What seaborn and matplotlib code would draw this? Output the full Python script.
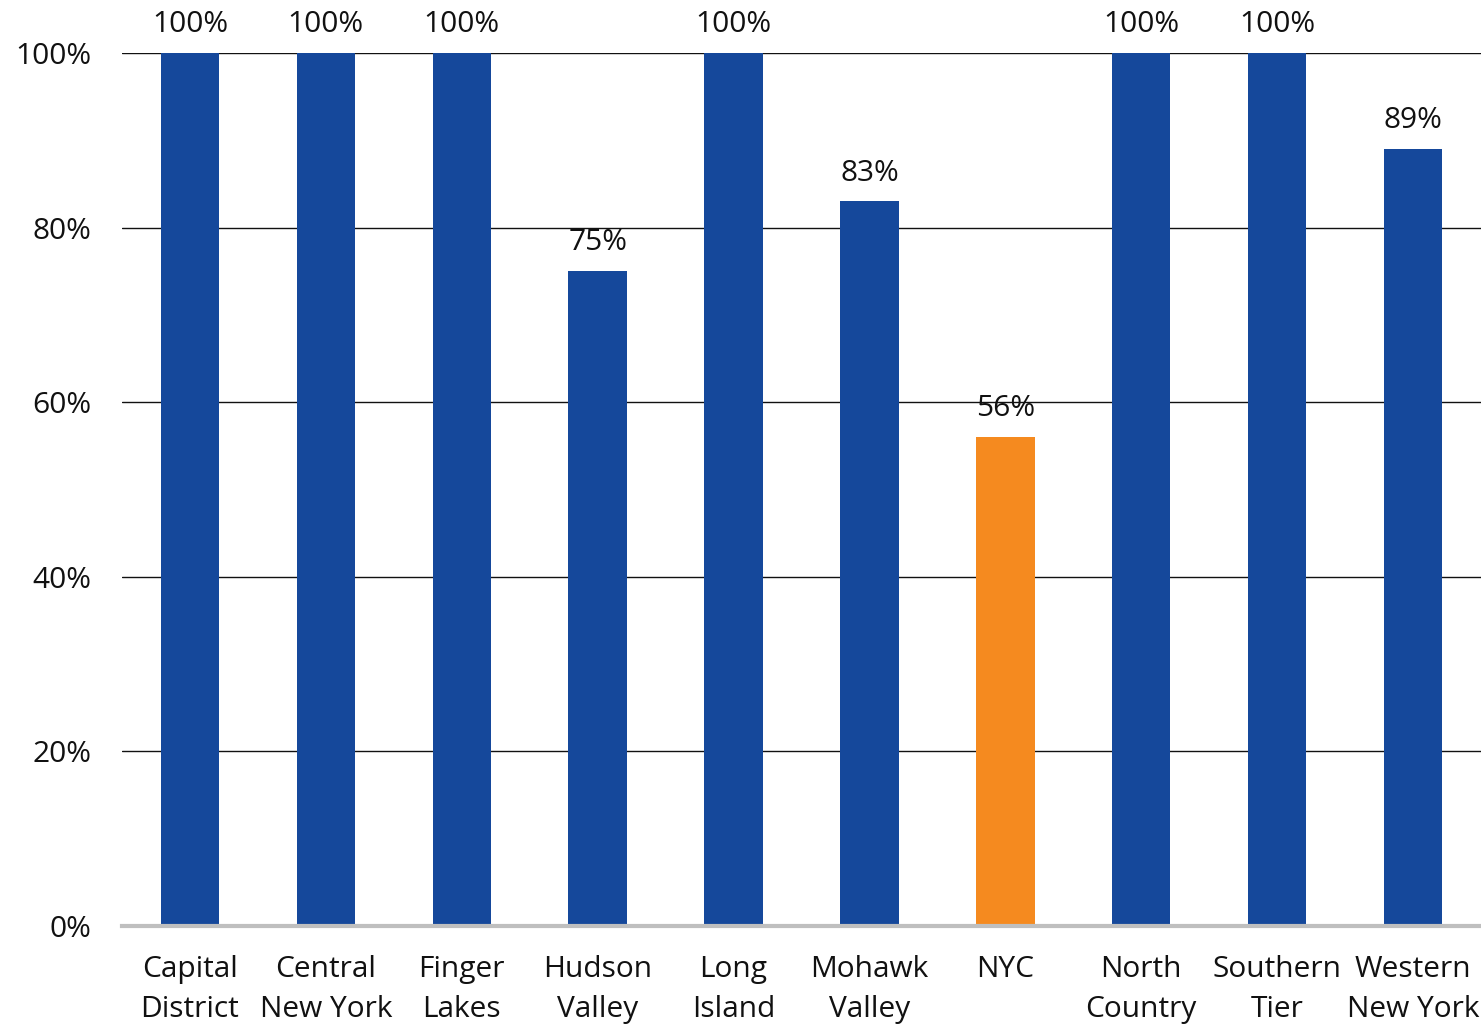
import numpy as np
import pandas as pd
import seaborn as sns
import matplotlib.pyplot as plt
from matplotlib.ticker import PercentFormatter

regions = ["Capital\nDistrict", "Central\nNew York", "Finger\nLakes", "Hudson\nValley",
           "Long\nIsland", "Mohawk\nValley", "NYC", "North\nCountry", "Southern\nTier",
           "Western\nNew York"]
shares = [1.00, 1.00, 1.00, 0.75, 1.00, 0.83, 0.56, 1.00, 1.00, 0.89]
labels = ["100%", "100%", "100%", "75%", "100%", "83%", "56%", "100%", "100%", "89%"]

blue = "#15489B"
orange = "#F58A1F"

df = pd.DataFrame({"region": regions, "share": shares})
df["group"] = ["nyc" if r == "NYC" else "other" for r in regions]

sns.set_style("white")
plt.rcParams["font.family"] = ["Open Sans", "DejaVu Sans"]
plt.rcParams["font.weight"] = "medium"

fig = plt.figure(figsize=(14.81, 10.26), dpi=100)
ax = fig.add_axes([122 / 1481, 1 - 926 / 1026, 1 - 122 / 1481, (926 - 53) / 1026])

sns.barplot(data=df, x="region", y="share", hue="group",
            palette={"other": blue, "nyc": orange}, width=0.43,
            dodge=False, legend=False, saturation=1, linewidth=0, ax=ax)

# value labels above bars
for patch in ax.patches:
    if patch.get_height() <= 0:
        continue
    xc = patch.get_x() + patch.get_width() / 2
    i = int(round(xc))
    ax.annotate(labels[i], (xc, patch.get_height()), xytext=(0, 10),
                textcoords="offset points", ha="center", va="bottom",
                fontsize=21.5, color="#111111", annotation_clip=False)

ax.set_xlim(-0.5, 9.5)
ax.set_ylim(0, 1)
ax.set_yticks(np.arange(0, 1.01, 0.2))
ax.yaxis.set_major_formatter(PercentFormatter(1.0, decimals=0))
ax.grid(axis="y", color="#111111", linewidth=1.0)
ax.set_axisbelow(True)
for s in ["top", "right", "left"]:
    ax.spines[s].set_visible(False)
ax.spines["bottom"].set_color("#BFBFBF")
ax.spines["bottom"].set_linewidth(3)
ax.set_xlabel("")
ax.set_ylabel("")
ax.tick_params(axis="x", length=0, pad=21, labelsize=21.5, labelcolor="#111111")
ax.tick_params(axis="y", length=0, pad=22, labelsize=21.5, labelcolor="#111111")
for t in ax.get_xticklabels():
    t.set_linespacing(1.5)

fig.savefig("out.png", dpi=100)
